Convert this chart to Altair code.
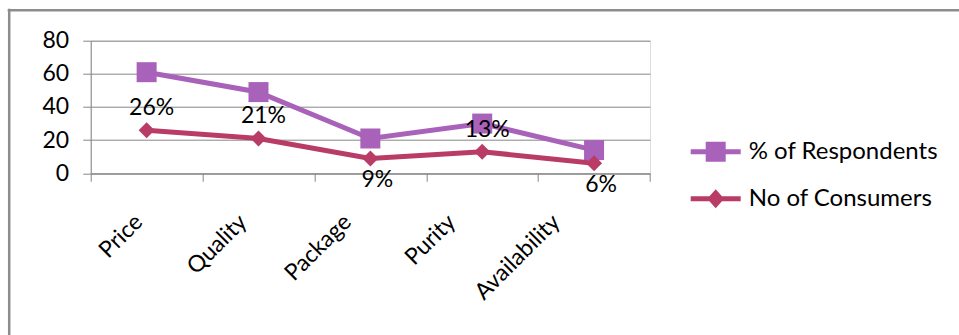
import altair as alt
import pandas as pd

# Survey results per purchase factor
categories = ["Price", "Quality", "Package", "Purity", "Availability"]
respondents = [61, 49, 21, 30, 14]
consumers = [26, 21, 9, 13, 6]
series_names = ["% of Respondents", "No of Consumers"]
y_ticks = [0, 20, 40, 60, 80]

PURPLE = "#A862BA"
CRIMSON = "#B93C66"
GRID = "#878787"
FRAME = "#8C8C8C"
FONT = "Lato"

df = pd.DataFrame({
    "category": categories * 2,
    "series": [series_names[0]] * len(categories) + [series_names[1]] * len(categories),
    "value": respondents + consumers,
})

x_enc = alt.X(
    "category:N",
    sort=categories,
    scale=alt.Scale(paddingInner=0, paddingOuter=0),
    axis=alt.Axis(
        title=None, grid=False, tickBand="extent", tickSize=8,
        tickColor=GRID, domainColor=GRID, labelAngle=-45,
        labelAlign="right", labelBaseline="top", labelPadding=29,
        labelOffset={"expr": "-16 - 30*datum.index"},
        labelFont=FONT, labelFontSize=23, labelColor="black",
    ),
)
y_enc = alt.Y(
    "value:Q",
    scale=alt.Scale(domain=[0, 80]),
    axis=alt.Axis(
        title=None, values=y_ticks, grid=True, gridColor=GRID,
        domainColor=GRID, tickColor=GRID, tickSize=8, labelPadding=14,
        labelFont=FONT, labelFontSize=23, labelColor="black",
    ),
)

# legend keys: a short line with the series marker on top (unit box scaled by symbolSize)
SQUARE_KEY = "M-1,-0.1H1V0.1H-1Z M-0.4,-0.4H0.4V0.4H-0.4Z"
DIAMOND_KEY = "M-1,-0.1H1V0.1H-1Z M-0.34,0L0,-0.38L0.34,0L0,0.38Z"


def series_layer(name, color, shape, size, key_path, legend_y):
    base = alt.Chart(df).transform_filter(alt.datum.series == name)
    line = base.mark_line(color=color, strokeWidth=5).encode(x=x_enc, y=y_enc)
    pts = base.mark_point(shape=shape, filled=True, size=size, opacity=1).encode(
        x=x_enc,
        y=y_enc,
        color=alt.Color(
            "series:N",
            scale=alt.Scale(domain=[name], range=[color]),
            legend=alt.Legend(
                title=None, orient="none", legendX=600, legendY=legend_y,
                symbolType=key_path, symbolSize=2500, symbolStrokeWidth=0,
                labelFont=FONT, labelFontSize=24, labelColor="black",
                labelOffset=8, labelLimit=400, padding=0,
            ),
        ),
    )
    return alt.layer(line, pts)


resp_layer = series_layer(series_names[0], PURPLE, "square", 400, SQUARE_KEY, 86)
cons_layer = series_layer(series_names[1], CRIMSON, "diamond", 256, DIAMOND_KEY, 133)

label_base = (
    alt.Chart(df)
    .transform_filter(alt.datum.series == series_names[1])
    .transform_calculate(label="datum.value + '%'")
)
labels_above = label_base.transform_filter(
    alt.FieldOneOfPredicate(field="category", oneOf=["Price", "Quality", "Purity"])
).mark_text(dy=-22, dx=5, font=FONT, fontSize=23, baseline="middle", color="black").encode(
    x=x_enc, y=y_enc, text="label:N"
)
labels_below = label_base.transform_filter(
    alt.FieldOneOfPredicate(field="category", oneOf=["Package", "Availability"])
).mark_text(dy=22, dx=7, font=FONT, fontSize=23, baseline="middle", color="black").encode(
    x=x_enc, y=y_enc, text="label:N"
)

# outer chart frame
frame_df = pd.DataFrame({"k": [0]})
frame_top = alt.Chart(frame_df).mark_rule(color=FRAME, strokeWidth=2.5).encode(
    x=alt.value(-83), x2=alt.value(880), y=alt.value(-30.5)
)
frame_left = alt.Chart(frame_df).mark_rule(color=FRAME, strokeWidth=2.5).encode(
    x=alt.value(-81.5), y=alt.value(-32), y2=alt.value(300)
)

chart = (
    alt.layer(resp_layer, cons_layer, labels_above, labels_below, frame_top, frame_left)
    .resolve_scale(color="independent")
    .properties(
        width=559.3,
        height=132.6,
        autosize=alt.AutoSizeParams(type="none"),
        padding={"left": 90.7, "top": 40.7, "right": 309, "bottom": 162},
    )
    .configure_view(stroke=None)
    .configure(background="white")
)

chart.save("out.html", embed_options={"renderer": "svg", "actions": False})
